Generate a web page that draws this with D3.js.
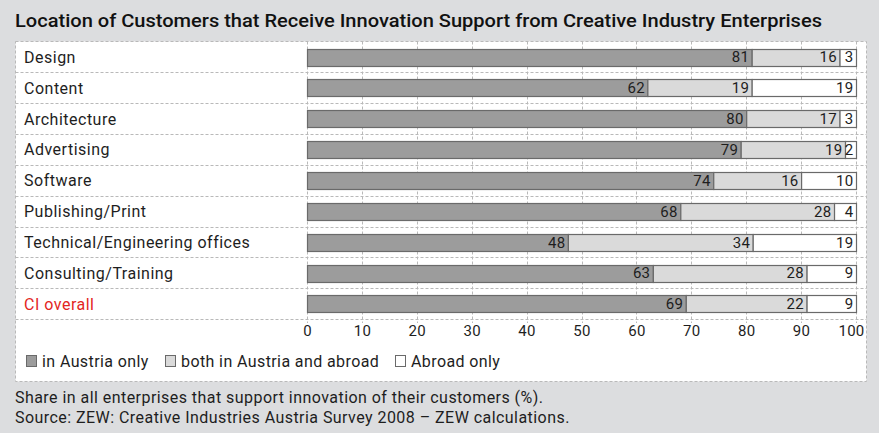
<!DOCTYPE html>
<html>
<head>
<meta charset="utf-8">
<script src="https://cdn.jsdelivr.net/npm/d3@7"></script>
<style>
  html, body { margin: 0; padding: 0; background: #dcdddf; }
  svg { display: block; font-family: Roboto, "Open Sans", sans-serif; }
</style>
</head>
<body>
<svg id="chart" width="879" height="433"></svg>
<script>
// Survey shares (%) per creative-industry segment
const categories = [
  "Design", "Content", "Architecture", "Advertising", "Software",
  "Publishing/Print", "Technical/Engineering offices", "Consulting/Training", "CI overall"
];
const austriaOnly = [81, 62, 80, 79, 74, 68, 48, 63, 69];
const bothAustriaAbroad = [16, 19, 17, 19, 16, 28, 34, 28, 22];
const abroadOnly = [3, 19, 3, 2, 10, 4, 19, 9, 9];
const seriesNames = ["in Austria only", "both in Austria and abroad", "Abroad only"];
const tickValues = [0, 10, 20, 30, 40, 50, 60, 70, 80, 90, 100];

const titleText = "Location of Customers that Receive Innovation Support from Creative Industry Enterprises";
const notes = [
  "Share in all enterprises that support innovation of their customers (%).",
  "Source: ZEW: Creative Industries Austria Survey 2008 \u2013 ZEW calculations."
];

const fills = ["#9c9c9c", "#dadada", "#ffffff"];
const strokeCol = "#6a6a6a";
const gridCol = "#b9b9b9";
const textCol = "#1e1e1e";

const svg = d3.select("#chart");

// layout
const panel = { x: 15.5, y: 41.5, w: 851, h: 340 };
const rowTop = 41.5, rowPitch = 30.85;
const x = d3.scaleLinear().domain([0, 100]).range([307, 856]);
const y = d3.scaleBand().domain(categories)
  .range([rowTop, rowTop + rowPitch * categories.length])
  .paddingInner(0.46).paddingOuter(0.23);

// title
svg.append("text")
  .attr("x", 15).attr("y", 27)
  .attr("font-size", 18).attr("font-weight", 500)
  .attr("fill", "#111")
  .attr("textLength", 807).attr("lengthAdjust", "spacingAndGlyphs")
  .text(titleText);

// white panel with dashed border
svg.append("rect")
  .attr("x", panel.x).attr("y", panel.y)
  .attr("width", panel.w).attr("height", panel.h)
  .attr("fill", "#fff")
  .attr("stroke", gridCol).attr("stroke-dasharray", "3,2");

// row separators
const sepYs = d3.range(1, categories.length + 1).map(i => rowTop + rowPitch * i);
svg.append("g").selectAll("line").data(sepYs).join("line")
  .attr("x1", panel.x).attr("x2", panel.x + panel.w)
  .attr("y1", d => Math.round(d) + 0.5).attr("y2", d => Math.round(d) + 0.5)
  .attr("stroke", gridCol).attr("stroke-dasharray", "3,2");

// vertical gridlines through the bar area
svg.append("g").selectAll("line").data(tickValues).join("line")
  .attr("x1", d => Math.round(x(d)) + 0.5).attr("x2", d => Math.round(x(d)) + 0.5)
  .attr("y1", rowTop).attr("y2", Math.round(sepYs[sepYs.length - 1]) + 4)
  .attr("stroke", gridCol).attr("stroke-dasharray", "3,2");

// stacked segments; each row is scaled to its own total so it spans 0–100
const rows = categories.map((c, i) => {
  const vals = [austriaOnly[i], bothAustriaAbroad[i], abroadOnly[i]];
  const total = d3.sum(vals);
  let acc = 0;
  return vals.map((v, k) => {
    const seg = { cat: c, k, v, x0: acc / total * 100, x1: (acc + v) / total * 100 };
    acc += v;
    return seg;
  });
});

const barG = svg.append("g");
rows.forEach(segs => {
  const g = barG.append("g");
  g.selectAll("rect").data(segs).join("rect")
    .attr("x", d => x(d.x0) + 0.5)
    .attr("y", d => Math.round(y(d.cat)) + 0.5)
    .attr("width", d => x(d.x1) - x(d.x0))
    .attr("height", Math.round(y.bandwidth()))
    .attr("fill", d => fills[d.k])
    .attr("stroke", strokeCol).attr("stroke-width", 1.2);
  g.selectAll("text").data(segs).join("text")
    .attr("x", d => x(d.x1) - 2.5)
    .attr("y", d => y(d.cat) + y.bandwidth() / 2 + 5.5)
    .attr("text-anchor", "end")
    .attr("font-size", 15).attr("letter-spacing", 0.3).attr("fill", textCol)
    .text(d => d.v);
});

// x axis labels (no domain line, no tick marks)
const axis = svg.append("g")
  .attr("transform", `translate(0, ${Math.round(sepYs[sepYs.length - 1])})`)
  .call(d3.axisBottom(x).tickValues(tickValues).tickSize(0).tickPadding(6));
axis.select(".domain").remove();
axis.selectAll("text")
  .attr("font-size", 15).attr("letter-spacing", 0.3).attr("fill", textCol)
  .attr("font-family", "Roboto, sans-serif");
// keep the last label inside the panel edge
axis.selectAll(".tick").filter(d => d === 100).select("text").attr("dx", -5);

// category labels
svg.append("g").selectAll("text").data(categories).join("text")
  .attr("x", 24)
  .attr("y", d => y(d) + y.bandwidth() / 2 + 6)
  .attr("font-size", 16).attr("letter-spacing", 0.5)
  .attr("fill", d => d === "CI overall" ? "#e3261e" : textCol)
  .text(d => d);

// legend
const legendX = [26, 165, 395];
const lg = svg.append("g");
seriesNames.forEach((name, i) => {
  lg.append("rect")
    .attr("x", legendX[i] + 0.5).attr("y", 355.5)
    .attr("width", 10).attr("height", 11)
    .attr("fill", fills[i]).attr("stroke", strokeCol);
  lg.append("text")
    .attr("x", legendX[i] + 16).attr("y", 367)
    .attr("font-size", 16).attr("letter-spacing", 0.4).attr("fill", textCol)
    .text(name);
});

// footnotes
svg.append("g").selectAll("text").data(notes).join("text")
  .attr("x", 15).attr("y", (d, i) => 403 + i * 20)
  .attr("font-size", 16).attr("letter-spacing", 0.45).attr("fill", textCol)
  .text(d => d);
</script>
</body>
</html>
